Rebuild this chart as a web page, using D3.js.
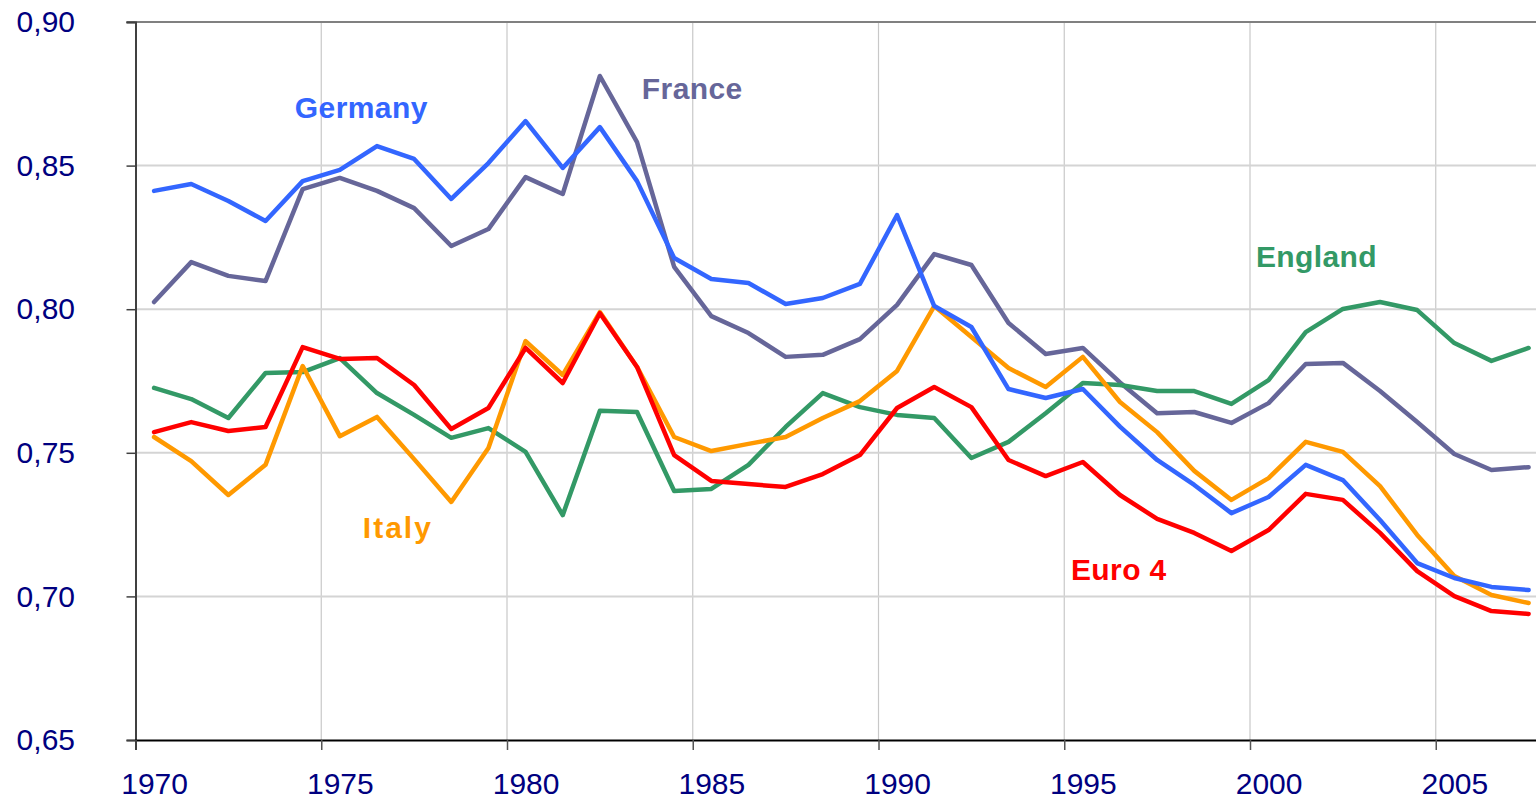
<!DOCTYPE html>
<html>
<head>
<meta charset="utf-8">
<script src="https://cdn.jsdelivr.net/npm/d3@7"></script>
<style>
  html, body { margin: 0; padding: 0; background: #fff; }
  svg { display: block; }
</style>
</head>
<body>
<div id="chart"></div>
<script>
// years (one point per year, drawn in the middle of the year's slot)
var years = d3.range(1970, 2008);

var germany = [0.8412, 0.8436, 0.8377, 0.8307, 0.8446, 0.8485, 0.8568, 0.8523, 0.8384, 0.8509,
               0.8655, 0.8492, 0.8634, 0.8446, 0.8178, 0.8105, 0.8091, 0.8018, 0.8039, 0.8088,
               0.8328, 0.8011, 0.7938, 0.7722, 0.7691, 0.7722, 0.7591, 0.7475, 0.7388, 0.7290,
               0.7346, 0.7458, 0.7405, 0.7266, 0.7116, 0.7064, 0.7033, 0.7022];

var france = [0.8025, 0.8164, 0.8116, 0.8098, 0.8418, 0.8457, 0.8412, 0.8352, 0.8220, 0.8279,
              0.8460, 0.8401, 0.8812, 0.8582, 0.8147, 0.7976, 0.7917, 0.7834, 0.7841, 0.7896,
              0.8015, 0.8192, 0.8154, 0.7952, 0.7844, 0.7865, 0.7745, 0.7638, 0.7642, 0.7604,
              0.7673, 0.7809, 0.7813, 0.7715, 0.7607, 0.7496, 0.7440, 0.7450];

var england = [0.7726, 0.7687, 0.7621, 0.7778, 0.7781, 0.7830, 0.7708, 0.7632, 0.7552, 0.7586,
               0.7503, 0.7283, 0.7646, 0.7642, 0.7367, 0.7374, 0.7458, 0.7590, 0.7708, 0.7659,
               0.7632, 0.7621, 0.7482, 0.7538, 0.7638, 0.7743, 0.7736, 0.7715, 0.7715, 0.7670,
               0.7753, 0.7920, 0.8001, 0.8025, 0.7997, 0.7882, 0.7820, 0.7865];

var italy = [0.7555, 0.7471, 0.7353, 0.7458, 0.7802, 0.7558, 0.7625, 0.7478, 0.7329, 0.7517,
             0.7889, 0.7771, 0.7990, 0.7799, 0.7555, 0.7506, 0.7531, 0.7555, 0.7621, 0.7680,
             0.7785, 0.8011, 0.7903, 0.7795, 0.7729, 0.7834, 0.7677, 0.7572, 0.7437, 0.7336,
             0.7412, 0.7538, 0.7503, 0.7384, 0.7214, 0.7071, 0.7005, 0.6977];

var euro4 = [0.7572, 0.7607, 0.7576, 0.7590, 0.7868, 0.7827, 0.7830, 0.7736, 0.7583, 0.7656,
             0.7865, 0.7743, 0.7986, 0.7799, 0.7492, 0.7402, 0.7391, 0.7381, 0.7426, 0.7492,
             0.7656, 0.7729, 0.7659, 0.7475, 0.7419, 0.7468, 0.7353, 0.7270, 0.7221, 0.7158,
             0.7231, 0.7357, 0.7336, 0.7221, 0.7088, 0.7001, 0.6949, 0.6939];

var seriesNames = ["France", "England", "Italy", "Euro 4", "Germany"];
var seriesColors = ["#666699", "#339966", "#ff9900", "#ff0000", "#3366ff"];
var seriesValues = [france, england, italy, euro4, germany];

// where each series name sits (year, value of the text baseline)
var labelYear = [1983.63, 2000.16, 1976.12, 1995.18, 1974.29];
var labelValue = [0.8732, 0.8147, 0.7203, 0.7057, 0.8666];

var yTicks = [0.65, 0.70, 0.75, 0.80, 0.85, 0.90];
var yTickLabels = ["0,65", "0,70", "0,75", "0,80", "0,85", "0,90"];
var xTicks = [1970, 1975, 1980, 1985, 1990, 1995, 2000, 2005];

var width = 1536, height = 801;
var plotLeft = 135.5, plotTop = 22, plotBottom = 740;
var font = "'Liberation Sans', Arial, Helvetica, sans-serif";

var svg = d3.select("#chart").append("svg")
    .attr("width", width)
    .attr("height", height);

var x = d3.scaleLinear().domain([1970, 2008]).range([plotLeft, plotLeft + 38 * 37.15]);
var y = d3.scaleLinear().domain([0.65, 0.90]).range([plotBottom, plotTop]);

// gridlines
svg.append("g").selectAll("line")
    .data(xTicks.slice(1))
    .join("line")
    .attr("x1", d => x(d)).attr("x2", d => x(d))
    .attr("y1", y(0.90)).attr("y2", y(0.65))
    .attr("stroke", "#c8c8c8").attr("stroke-width", 1.2);

svg.append("g").selectAll("line")
    .data(yTicks.slice(1, -1))
    .join("line")
    .attr("x1", plotLeft).attr("x2", width)
    .attr("y1", d => y(d)).attr("y2", d => y(d))
    .attr("stroke", "#d4d4d4").attr("stroke-width", 2);

// top border line
svg.append("line")
    .attr("x1", plotLeft - 9).attr("x2", width)
    .attr("y1", y(0.90)).attr("y2", y(0.90))
    .attr("stroke", "#808080").attr("stroke-width", 2);

// y axis
var yAxis = svg.append("g")
    .attr("transform", "translate(" + plotLeft + ",0)")
    .call(d3.axisLeft(y).tickValues(yTicks).tickSize(9).tickPadding(51.5)
        .tickFormat((d, i) => yTickLabels[i]));
yAxis.select(".domain").attr("stroke", "#404040").attr("stroke-width", 2);
yAxis.selectAll(".tick line").attr("stroke", "#404040").attr("stroke-width", 1.5);
yAxis.selectAll("text")
    .attr("fill", "#000080")
    .style("font-family", font)
    .style("font-size", "30px");

// x axis: tick marks at year boundaries
var xAxis = svg.append("g")
    .attr("transform", "translate(0," + plotBottom + ")")
    .call(d3.axisBottom(x).tickValues(xTicks).tickSize(10).tickFormat(""));
xAxis.select(".domain").attr("stroke", "#000").attr("stroke-width", 2);
xAxis.selectAll(".tick line").attr("stroke", "#555").attr("stroke-width", 1.5);

// x labels centred on the year slot
var xLabels = svg.append("g")
    .attr("transform", "translate(0," + plotBottom + ")")
    .call(d3.axisBottom(x).tickValues(xTicks.map(d => d + 0.5)).tickSize(0).tickPadding(33)
        .tickFormat(d => Math.floor(d)));
xLabels.select(".domain").remove();
xLabels.selectAll("text")
    .attr("fill", "#000080")
    .style("font-family", font)
    .style("font-size", "30px");

// lines
var line = d3.line()
    .x((d, i) => x(years[i] + 0.5))
    .y(d => y(d));

svg.append("g").selectAll("path")
    .data(seriesValues)
    .join("path")
    .attr("d", line)
    .attr("fill", "none")
    .attr("stroke", (d, i) => seriesColors[i])
    .attr("stroke-width", 4.5)
    .attr("stroke-linejoin", "round")
    .attr("stroke-linecap", "round");

// series names
svg.append("g").selectAll("text")
    .data(seriesNames)
    .join("text")
    .attr("x", (d, i) => x(labelYear[i]))
    .attr("y", (d, i) => y(labelValue[i]))
    .attr("fill", (d, i) => seriesColors[i])
    .style("font-family", font)
    .style("font-weight", "bold")
    .style("font-size", "30px")
    .style("letter-spacing", d => d === "Italy" ? "2px" : "0.4px")
    .text(d => d);
</script>
</body>
</html>
